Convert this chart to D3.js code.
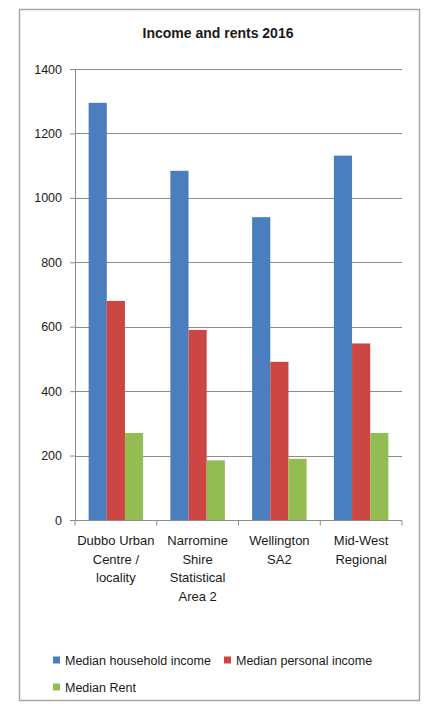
<!DOCTYPE html>
<html>
<head>
<meta charset="utf-8">
<script src="https://cdn.jsdelivr.net/npm/d3@7"></script>
<style>
  html, body { margin: 0; padding: 0; background: #fff; }
  svg { display: block; font-family: "Liberation Sans", Arial, sans-serif; }
</style>
</head>
<body>
<svg id="chart" width="425" height="704"></svg>
<script>
// Regions and their label lines
const categories = [
  "Dubbo Urban Centre / locality",
  "Narromine Shire Statistical Area 2",
  "Wellington SA2",
  "Mid-West Regional"
];
const categoryLines = [
  ["Dubbo Urban", "Centre /", "locality"],
  ["Narromine", "Shire", "Statistical", "Area 2"],
  ["Wellington", "SA2"],
  ["Mid-West", "Regional"]
];

// Series (weekly, $)
const seriesNames = ["Median household income", "Median personal income", "Median Rent"];
const householdIncome = [1295, 1084, 940, 1131];
const personalIncome = [680, 590, 491, 548];
const medianRent = [270, 185, 190, 270];
const seriesColors = ["#4a7ebf", "#cc4744", "#93bd52"];

const yTicks = [0, 200, 400, 600, 800, 1000, 1200, 1400];
const chartTitle = "Income and rents 2016";

const seriesValues = [householdIncome, personalIncome, medianRent];

const svg = d3.select("#chart");

// outer frame
svg.append("rect")
  .attr("x", 19.5).attr("y", 9.5)
  .attr("width", 400).attr("height", 691)
  .attr("fill", "#fff")
  .attr("stroke", "#a6a6a6")
  .attr("stroke-width", 1.5);

// title
svg.append("text")
  .attr("x", 218).attr("y", 38)
  .attr("text-anchor", "middle")
  .attr("font-size", 14).attr("font-weight", "bold")
  .attr("fill", "#1a1a1a")
  .text(chartTitle);

const plot = { left: 75, right: 402, top: 69, bottom: 520 };

const y = d3.scaleLinear().domain([0, 1400]).range([plot.bottom, plot.top]);
const x = d3.scaleBand().domain(categories).range([plot.left, plot.right]).padding(0);
const xs = d3.scaleBand().domain(seriesNames).range([0, x.bandwidth()])
  .paddingInner(0).paddingOuter(0.75);

// horizontal gridlines
svg.append("g")
  .selectAll("line")
  .data(yTicks.filter(d => d > 0))
  .join("line")
  .attr("x1", plot.left).attr("x2", plot.right)
  .attr("y1", d => Math.round(y(d)) + 0.5).attr("y2", d => Math.round(y(d)) + 0.5)
  .attr("stroke", "#8c8c8c").attr("stroke-width", 1);

// bars
const groups = svg.append("g")
  .selectAll("g")
  .data(categories)
  .join("g")
  .attr("transform", d => `translate(${x(d)},0)`);

groups.selectAll("rect")
  .data((d, i) => seriesNames.map((s, k) => ({ s, k, v: seriesValues[k][i] })))
  .join("rect")
  .attr("x", d => xs(d.s))
  .attr("width", xs.bandwidth())
  .attr("y", d => y(d.v))
  .attr("height", d => y(0) - y(d.v))
  .attr("fill", d => seriesColors[d.k]);

// y axis
const yAxis = svg.append("g")
  .attr("transform", `translate(${plot.left},0)`)
  .call(d3.axisLeft(y).tickValues(yTicks).tickFormat(d3.format("d"))
    .tickSize(5).tickPadding(8).tickSizeOuter(0));
yAxis.select(".domain").attr("stroke", "#8c8c8c");
yAxis.selectAll(".tick line").attr("stroke", "#8c8c8c");
yAxis.selectAll(".tick text")
  .attr("font-size", 12.5)
  .attr("font-family", "Liberation Sans, Arial, sans-serif")
  .attr("fill", "#1a1a1a");

// x axis
const xAxis = svg.append("g")
  .attr("transform", `translate(0,${Math.round(plot.bottom) + 0.5})`);
xAxis.append("line")
  .attr("x1", plot.left).attr("x2", plot.right)
  .attr("stroke", "#8c8c8c");
xAxis.selectAll("line.tick")
  .data(categories.map(c => x(c)).concat([plot.right]))
  .join("line")
  .attr("class", "tick")
  .attr("x1", d => d).attr("x2", d => d)
  .attr("y1", 0).attr("y2", 5)
  .attr("stroke", "#8c8c8c");

// category labels
const labels = svg.append("g")
  .selectAll("text")
  .data(categories)
  .join("text")
  .attr("text-anchor", "middle")
  .attr("font-size", 13)
  .attr("fill", "#1a1a1a")
  .attr("transform", d => `translate(${x(d) + x.bandwidth() / 2},545)`);
labels.selectAll("tspan")
  .data((d, i) => categoryLines[i])
  .join("tspan")
  .attr("x", 0)
  .attr("y", (d, j) => j * 18.5)
  .text(d => d);

// legend
const legendItems = [
  { name: seriesNames[0], color: seriesColors[0], x: 53, y: 660 },
  { name: seriesNames[1], color: seriesColors[1], x: 224, y: 660 },
  { name: seriesNames[2], color: seriesColors[2], x: 53, y: 687 }
];
const legend = svg.append("g")
  .selectAll("g")
  .data(legendItems)
  .join("g")
  .attr("transform", d => `translate(${d.x},${d.y})`);
legend.append("rect")
  .attr("x", 0).attr("y", -3.5)
  .attr("width", 7).attr("height", 7)
  .attr("fill", d => d.color);
legend.append("text")
  .attr("x", 12).attr("y", 4.5)
  .attr("font-size", 12.5)
  .attr("fill", "#1a1a1a")
  .text(d => d.name);
</script>
</body>
</html>
